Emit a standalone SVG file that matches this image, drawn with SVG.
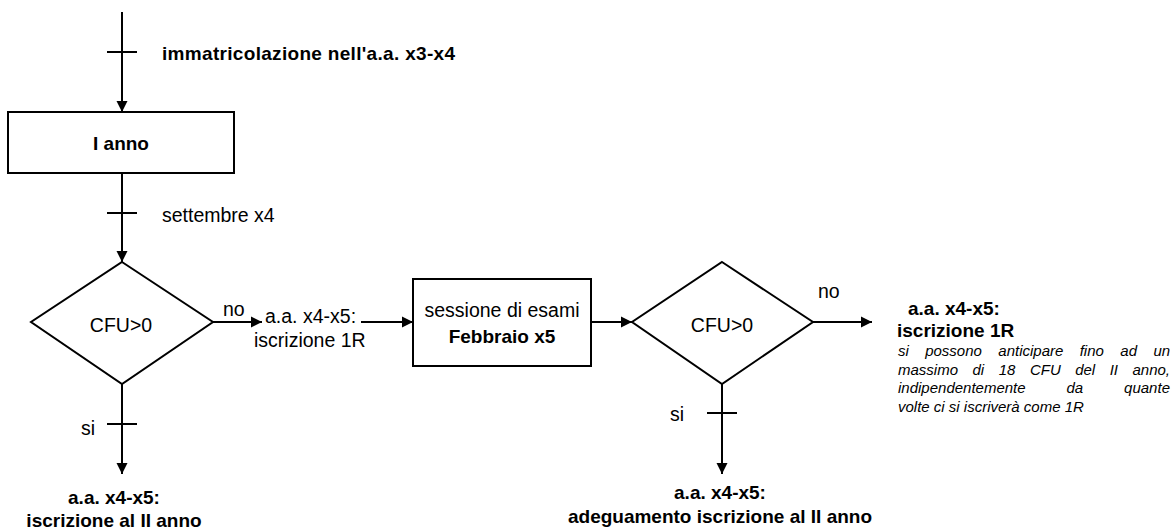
<svg xmlns="http://www.w3.org/2000/svg" width="1174" height="531" viewBox="0 0 1174 531">
<defs>
<marker id="arr" markerUnits="userSpaceOnUse" markerWidth="12" markerHeight="12" refX="11" refY="6" orient="auto">
<path d="M0,0.5 L11,6 L0,11.5 z" fill="#000"/>
</marker>
<style>
text{font-family:"Liberation Sans",Arial,sans-serif;fill:#000}
.r{font-size:19.5px}
.b{font-size:19px;font-weight:bold}
.i{font-size:15px;font-style:italic}
.m{text-anchor:middle}
.shape{fill:#fff;stroke:#000;stroke-width:2}
.ln{stroke:#000;stroke-width:2;fill:none}
</style>
</defs>
<rect width="1174" height="531" fill="#fff"/>
<g id="connectors">
<line class="ln" x1="122" y1="12" x2="122" y2="112" marker-end="url(#arr)"/>
<line class="ln" x1="107" y1="52" x2="137" y2="52"/>
<line class="ln" x1="122" y1="173" x2="122" y2="262" marker-end="url(#arr)"/>
<line class="ln" x1="107" y1="213" x2="137" y2="213"/>
<line class="ln" x1="213" y1="322" x2="262" y2="322" marker-end="url(#arr)"/>
<line class="ln" x1="361" y1="322" x2="413" y2="322" marker-end="url(#arr)"/>
<line class="ln" x1="591" y1="322" x2="632" y2="322" marker-end="url(#arr)"/>
<line class="ln" x1="813" y1="322" x2="872" y2="322" marker-end="url(#arr)"/>
<line class="ln" x1="122" y1="384" x2="122" y2="474" marker-end="url(#arr)"/>
<line class="ln" x1="107" y1="424" x2="137" y2="424"/>
<line class="ln" x1="722" y1="384" x2="722" y2="474" marker-end="url(#arr)"/>
<line class="ln" x1="707" y1="413" x2="737" y2="413"/>
</g>
<g id="label-immatricolazione"><text class="b" x="162" y="60" textLength="293" lengthAdjust="spacing">immatricolazione nell'a.a. x3-x4</text></g>
<g id="node-ianno">
<rect class="shape" x="8" y="112" width="226" height="61"/>
<text class="b m" x="121" y="150">I anno</text>
</g>
<g id="label-settembre"><text class="r" x="162" y="222">settembre x4</text></g>
<g id="node-cfu1">
<polygon class="shape" points="122,262 213,322 122,384 31,322"/>
<text class="r m" x="121" y="332">CFU&gt;0</text>
</g>
<g id="label-no1"><text class="r" x="223" y="316">no</text></g>
<g id="label-1r-left">
<text class="r" x="265" y="323">a.a. x4-x5:</text>
<text class="r" x="254" y="347">iscrizione 1R</text>
</g>
<g id="node-sessione">
<rect class="shape" x="413" y="279" width="178" height="87"/>
<text class="r m" x="502" y="317">sessione di esami</text>
<text class="b m" x="502" y="343">Febbraio x5</text>
</g>
<g id="node-cfu2">
<polygon class="shape" points="722,262 813,322 722,384 632,322"/>
<text class="r m" x="722" y="332">CFU&gt;0</text>
</g>
<g id="label-no2"><text class="r" x="818" y="298">no</text></g>
<g id="label-1r-right">
<text class="b" x="908" y="315">a.a. x4-x5:</text>
<text class="b" x="897" y="337">iscrizione 1R</text>
<text class="i" y="356"><tspan x="898">si</tspan><tspan x="925.2">possono</tspan><tspan x="998.3">anticipare</tspan><tspan x="1079.7">fino</tspan><tspan x="1120.3">ad</tspan><tspan x="1153.4">un</tspan></text>
<text class="i" y="375"><tspan x="898">massimo</tspan><tspan x="972.5">di</tspan><tspan x="998.7">18</tspan><tspan x="1029.9">CFU</tspan><tspan x="1075.2">del</tspan><tspan x="1109.7">II</tspan><tspan x="1132.5">anno,</tspan></text>
<text class="i" y="393"><tspan x="898">indipendentemente</tspan><tspan x="1066.5">da</tspan><tspan x="1124.1">quante</tspan></text>
<text class="i" x="898" y="412">volte ci si iscriverà come 1R</text>
</g>
<g id="label-si1"><text class="r" x="81" y="435">si</text></g>
<g id="label-si2"><text class="r" x="670" y="421">si</text></g>
<g id="label-bottom1">
<text class="b m" x="114" y="504">a.a. x4-x5:</text>
<text class="b m" x="114" y="527">iscrizione al II anno</text>
</g>
<g id="label-bottom2">
<text class="b m" x="720" y="499">a.a. x4-x5:</text>
<text class="b m" x="720" y="523">adeguamento iscrizione al II anno</text>
</g>
</svg>
